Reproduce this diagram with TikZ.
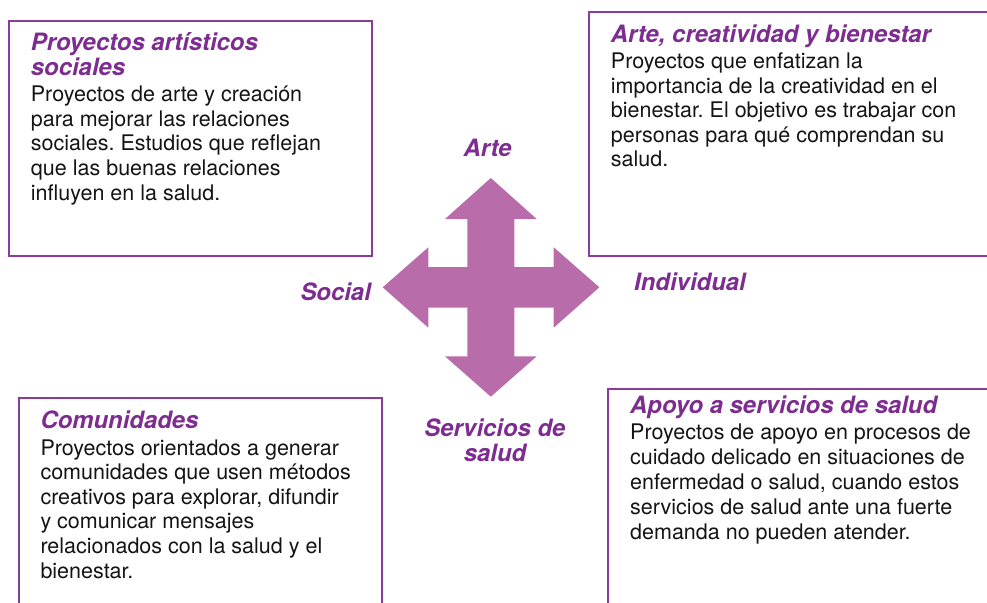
\documentclass[tikz,border=0pt]{standalone}
\usepackage{fontspec}
\setmainfont{TeX Gyre Heros}
\frenchspacing
\definecolor{boxline}{RGB}{140,58,156}
\definecolor{titlecol}{RGB}{125,44,143}
\definecolor{arrowcol}{RGB}{184,108,170}
\definecolor{bodycol}{RGB}{20,20,20}
\newcommand{\mylines}[2][l]{\begin{tabular}[t]{@{}#1@{}}#2\end{tabular}}
\tikzset{
  panel/.style={draw=boxline, line width=1.9pt},
  ttl/.style={anchor=base west, inner sep=0pt, text=titlecol, font=\fontsize{23.9}{24.4}\selectfont\bfseries\itshape},
  bodytxt/.style={anchor=base west, inner sep=0pt, text=bodycol, font=\fontsize{21.5}{24.6}\selectfont\frenchspacing},
  axislbl/.style={anchor=base, inner sep=0pt, text=titlecol, font=\fontsize{23.9}{25}\selectfont\bfseries\itshape}
}
\begin{document}
\begin{tikzpicture}[x=1pt,y=-1pt]
\useasboundingbox (0,0) rectangle (987,602);
\clip (0,0) rectangle (987,602);
% panels
\draw[panel] (9,21) rectangle (372,256);
\draw[panel] (589,12) rectangle (1010,256);
\draw[panel] (19,398) rectangle (382,640);
\draw[panel] (608,389) rectangle (1010,640);
% four-way arrow
\fill[arrowcol] (490.8,178) -- (536.7,219) -- (514.3,219) -- (514.3,267) -- (553.7,267) -- (553.7,247.3)
  -- (599.3,287.3) -- (553.7,327.7) -- (553.7,307.7) -- (514.3,307.7) -- (514.3,356.3) -- (536.7,356.3)
  -- (490.8,396.7) -- (445,356.3) -- (467.3,356.3) -- (467.3,307.7) -- (428.3,307.7) -- (428.3,327.7)
  -- (382.7,287.3) -- (428.3,247.3) -- (428.3,267) -- (467.3,267) -- (467.3,219) -- (445,219) -- cycle;
% panel texts
\node[ttl] (t1) at (30.7,50.7) {\mylines{Proyectos artísticos\\sociales}};
\node[bodytxt] (b1) at (30.7,101.7) {\mylines{Proyectos de arte y creación\\para mejorar las relaciones\\sociales. Estudios que reflejan\\que las buenas relaciones\\influyen en la salud.}};
\node[ttl] (t2) at (610.7,42.7) {\mylines{Arte, creatividad y bienestar}};
\node[bodytxt] (b2) at (610.7,68.5) {\mylines{Proyectos que enfatizan la\\importancia de la creatividad en el\\bienestar. El objetivo es trabajar con\\personas para qué comprendan su\\salud.}};
\node[ttl] (t3) at (40.3,428.3) {\mylines{Comunidades}};
\node[bodytxt] (b3) at (40.3,455) {\mylines{Proyectos orientados a generar\\comunidades que usen métodos\\creativos para explorar, difundir\\y comunicar mensajes\\relacionados con la salud y el\\bienestar.}};
\node[ttl] (t4) at (630,413.3) {\mylines{Apoyo a servicios de salud}};
\node[bodytxt, font=\fontsize{21.5}{25.1}\selectfont] (b4) at (630,439.3) {\mylines{Proyectos de apoyo en procesos de\\cuidado delicado en situaciones de\\enfermedad o salud, cuando estos\\servicios de salud ante una fuerte\\demanda no pueden atender.}};
% axis labels
\node[axislbl] (arte) at (487.7,156.7) {Arte};
\node[axislbl] (social) at (335.7,300.7) {Social};
\node[axislbl] (indiv) at (690,290) {Individual};
\node[axislbl] (serv) at (495,436) {\mylines[c]{Servicios de\\salud}};
\end{tikzpicture}
\end{document}
